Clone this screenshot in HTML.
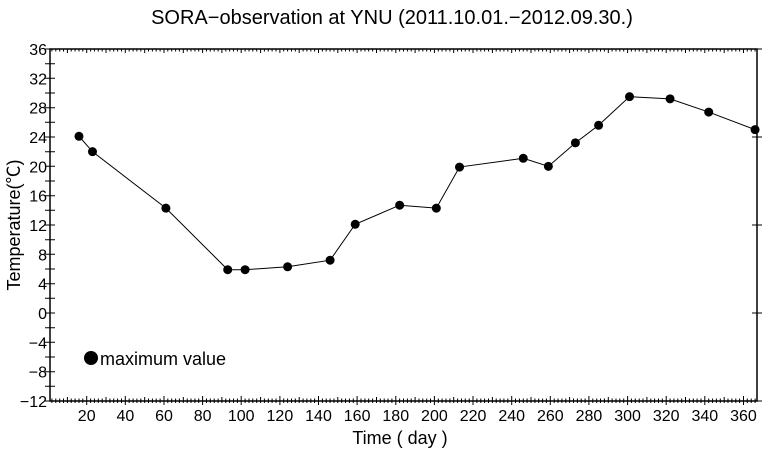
<!DOCTYPE html>
<html><head><meta charset="utf-8"><style>
body{margin:0;background:#fff;}
svg{display:block;font-family:"Liberation Sans","Noto Sans CJK JP",sans-serif;}
</style></head><body>
<svg id="c" width="783" height="450">
<text x="392" y="24" font-size="20" text-anchor="middle">SORA−observation at YNU (2011.10.01.−2012.09.30.)</text>
<text x="400" y="444" font-size="18" text-anchor="middle">Time ( day )</text>
<text transform="translate(20,225) rotate(-90)" font-size="18" text-anchor="middle">Temperature(℃)</text>
<g id="g"></g>
<circle cx="91" cy="358" r="7" fill="#000"/>
<text x="100" y="365" font-size="18">maximum value</text>
</svg>
<script>
const days=[16,23,61,93,102,124,146,159,182,201,213,246,259,273,285,301,322,342,366];
const temps=[24.1,22.0,14.3,5.9,5.9,6.3,7.2,12.1,14.7,14.3,19.9,21.1,20.0,23.2,25.6,29.5,29.2,27.4,25.0];
const xTicks=[20,40,60,80,100,120,140,160,180,200,220,240,260,280,300,320,340,360];
const yTicks=[36,32,28,24,20,16,12,8,4,0,-4,-8,-12];
const L=50,R=757,T=49,B=401,X0=1,X1=367,Y0=-12,Y1=36;
const sx=d=>L+(d-X0)*(R-L)/(X1-X0);
const sy=v=>B-(v-Y0)*(B-T)/(Y1-Y0);
const NS="http://www.w3.org/2000/svg",g=document.getElementById('g');
function mk(t,a){const e=document.createElementNS(NS,t);for(const k in a)e.setAttribute(k,a[k]);g.appendChild(e);return e;}
let p='';
for(let d=2;d<=X1;d+=2){const x=sx(d).toFixed(1);const m=d%20===0?5:(d%10===0?4:2.5);p+=`M${x} ${B-m}V${B+ (d%20===0?4:2)}M${x} ${T}V${T+ (d%10===0?4:2.5)}`;}
for(let v=Y0;v<=Y1;v+=2){const y=sy(v).toFixed(1);p+=`M${L-5} ${y}H${L+5}`;}
for(let v=Y0;v<=Y1;v+=12){const y=sy(v).toFixed(1);p+=`M${R-5} ${y}H${R+5}`;}
const tk=mk('path',{d:p,stroke:'#000','stroke-width':1,fill:'none'});


const fr=mk('rect',{x:L,y:T,width:R-L,height:B-T,fill:'none',stroke:'#000','stroke-width':1.5});


xTicks.forEach(d=>{const t=mk('text',{x:sx(d),y:B+20,'font-size':16,'text-anchor':'middle'});t.textContent=d;

});
yTicks.forEach(v=>{const t=mk('text',{x:L-3,y:sy(v)+6,'font-size':16,'text-anchor':'end'});t.textContent=v<0?'−'+(-v):v;

});
const ln=mk('polyline',{points:days.map((d,i)=>sx(d)+','+sy(temps[i])).join(' '),fill:'none',stroke:'#000','stroke-width':1});


days.forEach((d,i)=>{const c=mk('circle',{cx:sx(d),cy:sy(temps[i]),r:4.5,fill:'#000'});

});
</script>
</body></html>
